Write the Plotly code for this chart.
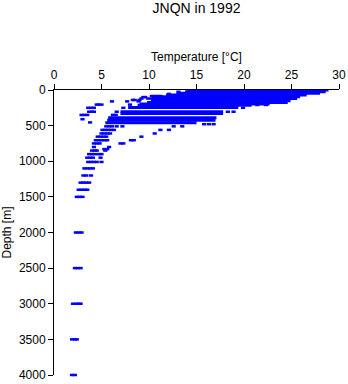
import plotly.graph_objects as go

# ---- data ----
# scattered observations: depth level -> temperatures observed there
point_depths = [25, 55, 85, 100, 120, 140, 160, 205, 210, 250, 305, 350, 410, 455, 480,
                510, 560, 610, 655, 705, 750, 800, 830, 850, 900, 950, 1010, 1100, 1200,
                1300, 1400, 1500, 2000, 2500, 3000, 3500, 4000]
point_temps = [
    [13.1],
    [12.1, 13.1, 13.9],
    [10.3, 10.6, 10.9, 11.2],
    [9.4, 9.6],
    [9.2, 9.9, 10.3, 10.6, 11.0],
    [8.3, 8.5, 9.0],
    [6.1, 7.7, 8.9],
    [4.5, 4.7, 5.0, 8.0],
    [21.4, 22.3],
    [3.6, 3.9, 4.2, 7.3, 19.9],
    [3.7, 4.0, 4.2, 6.6, 18.3, 18.9],
    [2.9, 3.2, 3.5, 6.2, 6.5],
    [3.0],
    [3.8],
    [15.8, 16.3, 16.8],
    [5.5, 5.8, 6.1, 6.6, 7.2, 12.6, 13.5],
    [5.1, 5.4, 5.7, 6.0, 6.3, 11.2, 12.1],
    [5.0, 5.3, 5.6, 5.9, 10.6],
    [4.6, 4.9, 5.2, 5.5, 9.2],
    [4.4, 4.7, 5.0, 5.3, 5.6, 8.1, 8.4],
    [4.2, 4.5, 4.8, 7.0, 7.3],
    [4.2, 5.8],
    [5.3, 5.6],
    [4.0, 4.3, 4.5, 5.4],
    [3.7, 4.0, 4.3, 4.7, 5.0],
    [3.5, 3.8, 4.1, 4.9],
    [3.6, 3.9, 4.2, 4.5, 5.0],
    [3.2, 3.5, 3.8, 4.1],
    [3.1, 3.4, 3.9],
    [2.8, 3.1, 3.4, 3.7],
    [2.6, 2.9, 3.2, 3.5],
    [2.4, 2.7, 3.0],
    [2.3, 2.6, 2.9],
    [2.2, 2.5, 2.8],
    [2.0, 2.3, 2.6, 2.8],
    [1.9, 2.2, 2.4],
    [1.9, 2.2],
]

# densely sampled upper layers: depth level, coldest and warmest observation
band_depths = [0, 25, 45, 70, 95, 120, 150, 175, 195, 215, 245, 305, 330, 390, 425, 460]
band_tmin = [14.0, 13.8, 13.0, 11.8, 10.8, 10.3, 10.2, 9.8, 9.0, 8.8, 7.8, 7.0, 7.0, 5.7, 5.6, 5.4]
band_tmax = [28.9, 28.6, 28.0, 26.6, 25.9, 25.6, 24.9, 24.6, 22.7, 20.8, 19.4, 17.8, 17.8, 17.1, 17.0, 15.0]

x_ticks = [0, 5, 10, 15, 20, 25, 30]
y_ticks = [0, 500, 1000, 1500, 2000, 2500, 3000, 3500, 4000]

BLUE = "#0000ff"
FONT = "Liberation Sans, Arial, Helvetica, sans-serif"

px_, py_ = [], []
for d, ts in zip(point_depths, point_temps):
    for t in ts:
        px_.append(t)
        py_.append(d)

bx, by = [], []
for d, a, b in zip(band_depths, band_tmin, band_tmax):
    bx += [a, b, None]
    by += [d, d, None]

fig = go.Figure()
fig.add_trace(go.Scatter(x=bx, y=by, mode="lines",
                         line=dict(color=BLUE, width=3), hoverinfo="skip",
                         showlegend=False))
fig.add_trace(go.Scatter(x=px_, y=py_, mode="markers", cliponaxis=False,
                         marker=dict(symbol="line-ew", size=3,
                                     line=dict(color=BLUE, width=2.5)),
                         showlegend=False))

fig.update_layout(
    width=348, height=384,
    margin=dict(l=54, r=9, t=90, b=9, autoexpand=False),
    paper_bgcolor="white", plot_bgcolor="white",
    font=dict(family=FONT, size=12, color="black"),
    title=dict(text="JNQN in 1992", x=0.5, xref="paper", xanchor="center",
               y=1 - 8 / 384, yref="container", yanchor="middle",
               font=dict(size=14, color="black", family=FONT)),
)
fig.update_xaxes(
    side="top", range=[0, 30], tickvals=x_ticks, ticks="outside", ticklen=5,
    tickcolor="black", showline=True, linecolor="black", linewidth=1,
    showgrid=False, zeroline=False, layer="below traces", automargin=False,
    title=dict(text="Temperature [°C]", standoff=4, font=dict(size=12)),
)
fig.update_yaxes(
    range=[4000, 0], tickvals=y_ticks, ticks="outside", ticklen=5,
    tickcolor="black", showline=True, linecolor="black", linewidth=1,
    showgrid=False, zeroline=False, layer="below traces", automargin=False,
    title=dict(text="Depth [m]", standoff=4, font=dict(size=12)),
)

fig.write_html("out.html")
